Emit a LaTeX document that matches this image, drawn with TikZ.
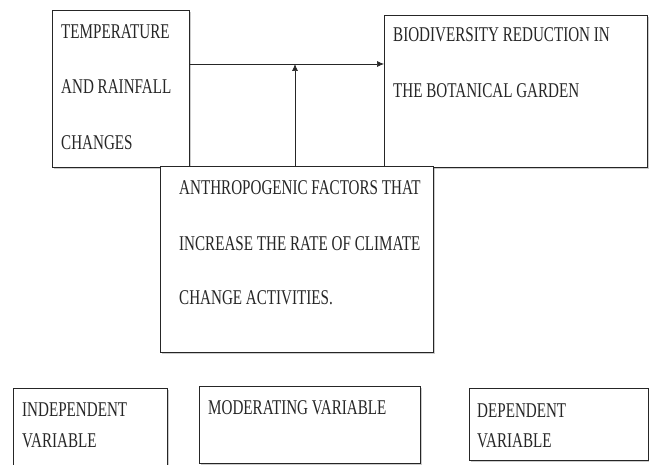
\documentclass[tikz,border=0pt]{standalone}
\usepackage{fontspec}
\setmainfont{Liberation Serif}[FakeStretch=0.72]
\usetikzlibrary{arrows.meta,shadows}
\begin{document}
\begin{tikzpicture}[x=1pt,y=-1pt,
  box/.style={draw=black!85,line width=1pt,fill=white,anchor=north west,inner sep=0pt,
    drop shadow={shadow xshift=1.5pt,shadow yshift=-1.5pt,opacity=0.4}},
  lbl/.style={anchor=base west,inner sep=0pt,font=\fontsize{21}{22}\selectfont,text=black!85},
  arr/.style={draw=black!85,line width=0.7pt,-{Latex[length=7pt,width=6pt]}}]
\useasboundingbox (0,0) rectangle (649,465);
\clip (0,0) rectangle (649,465);
% top boxes
\node[box,minimum width=137pt,minimum height=157pt] (b1) at (52,10) {};
\node[box,minimum width=263pt,minimum height=152pt] (b2) at (384,15) {};
\coordinate (h) at (0,64);
\coordinate (v) at (295,64);
\draw[arr] (b1.east |- h) -- (b2.west |- h);
\node[box,minimum width=273pt,minimum height=186pt] (b3) at (160,166) {};
\draw[arr] (b3.north -| v) -- (v);
% labels
\node[lbl] (t1) at (61,39) {TEMPERATURE};
\node[lbl] (t2) at (61,94) {AND RAINFALL};
\node[lbl] (t3) at (61,150) {CHANGES};
\node[lbl] (t4) at (393,42) {BIODIVERSITY REDUCTION IN};
\node[lbl] (t5) at (393,98) {THE BOTANICAL GARDEN};
\node[lbl] (t6) at (179,195) {ANTHROPOGENIC FACTORS THAT};
\node[lbl] (t7) at (179,251) {INCREASE THE RATE OF CLIMATE};
\node[lbl] (t8) at (179,305) {CHANGE ACTIVITIES.};
% bottom boxes
\node[box,minimum width=154pt,minimum height=90pt] (b4) at (13,388) {};
\node[box,minimum width=221pt,minimum height=77pt] (b5) at (199,386) {};
\node[box,minimum width=179pt,minimum height=72pt] (b6) at (469,388) {};
\node[lbl] (t9) at (22,417) {INDEPENDENT};
\node[lbl] (t10) at (22,448) {VARIABLE};
\node[lbl] (t11) at (208,415) {MODERATING VARIABLE};
\node[lbl] (t12) at (477,418) {DEPENDENT};
\node[lbl] (t13) at (477,448) {VARIABLE};
\end{tikzpicture}
\end{document}
